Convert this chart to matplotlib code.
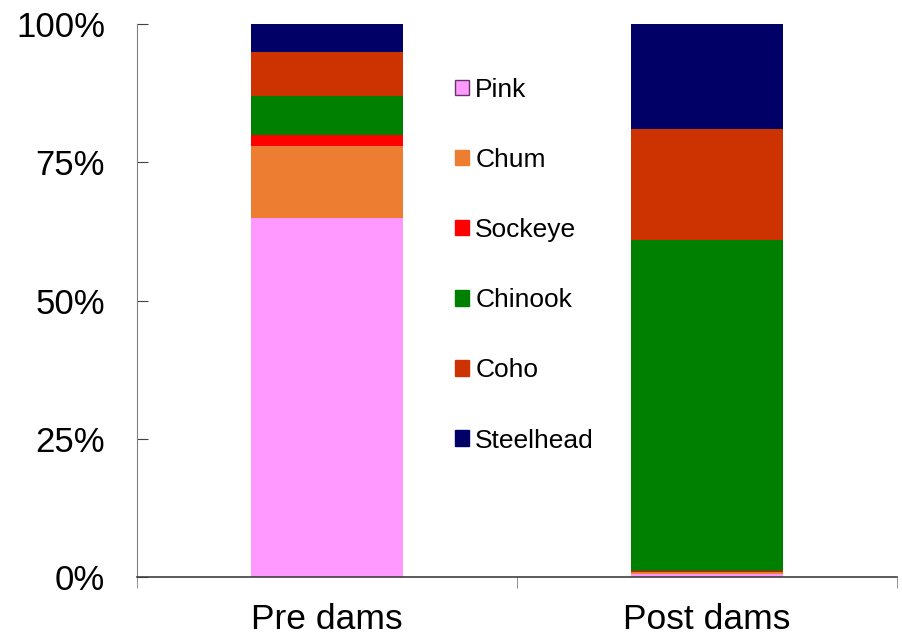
import numpy as np
import matplotlib
matplotlib.use('Agg')
import matplotlib.pyplot as plt
from matplotlib.patches import Patch
from matplotlib.ticker import FixedLocator, PercentFormatter

plt.rcParams['font.family'] = ['Liberation Sans', 'DejaVu Sans']

categories = ['Pre dams', 'Post dams']
species = ['Pink', 'Chum', 'Sockeye', 'Chinook', 'Coho', 'Steelhead']
colors = ['#FF99FF', '#ED7D31', '#FF0000', '#008000', '#CC3300', '#000066']

# percent share of each species, per category
pink = [65.0, 0.5]
chum = [13.0, 0.4]
sockeye = [2.0, 0.1]
chinook = [7.0, 60.0]
coho = [8.0, 20.0]
steelhead = [5.0, 19.0]
values = [pink, chum, sockeye, chinook, coho, steelhead]

fig = plt.figure(figsize=(9.02, 6.37), dpi=100)
ax = fig.add_axes([0.152, 0.0942, 0.8425, 0.8681])

x = np.arange(len(categories))
bottom = np.zeros(len(categories))
for vals, col in zip(values, colors):
	ax.bar(x, vals, width=0.4, bottom=bottom, color=col, edgecolor='none')
	bottom += np.array(vals)

ax.set_xlim(-0.5, 1.5)
ax.set_ylim(0, 100)
ax.set_yticks([0, 25, 50, 75, 100])
ax.yaxis.set_major_formatter(PercentFormatter(decimals=0))
ax.set_xticks(x)
ax.set_xticklabels(categories)
ax.xaxis.set_minor_locator(FixedLocator([-0.5, 0.5, 1.5]))
ax.tick_params(axis='x', which='major', length=0, labelsize=25.5, pad=19)
ax.tick_params(axis='x', which='minor', length=8, direction='out', color='#808080')
ax.tick_params(axis='y', length=8, direction='in', labelsize=25, pad=23, color='#404040')

for s in ['top', 'right']:
	ax.spines[s].set_visible(False)
ax.spines['left'].set_color('#808080')
ax.spines['bottom'].set_color('#404040')
ax.spines['bottom'].set_linewidth(1.2)

handles = []
for sp, col in zip(species, colors):
	ec = '#663366' if sp == 'Pink' else col
	handles.append(Patch(facecolor=col, edgecolor=ec, label=sp))
leg = ax.legend(handles=handles, loc='upper left', bbox_to_anchor=(0.418, 0.903),
	frameon=False, fontsize=19, handlelength=0.53, handleheight=0.53,
	handletextpad=0.25, labelspacing=1.75, borderpad=0, borderaxespad=0)

plt.savefig('out.png', dpi=100)
